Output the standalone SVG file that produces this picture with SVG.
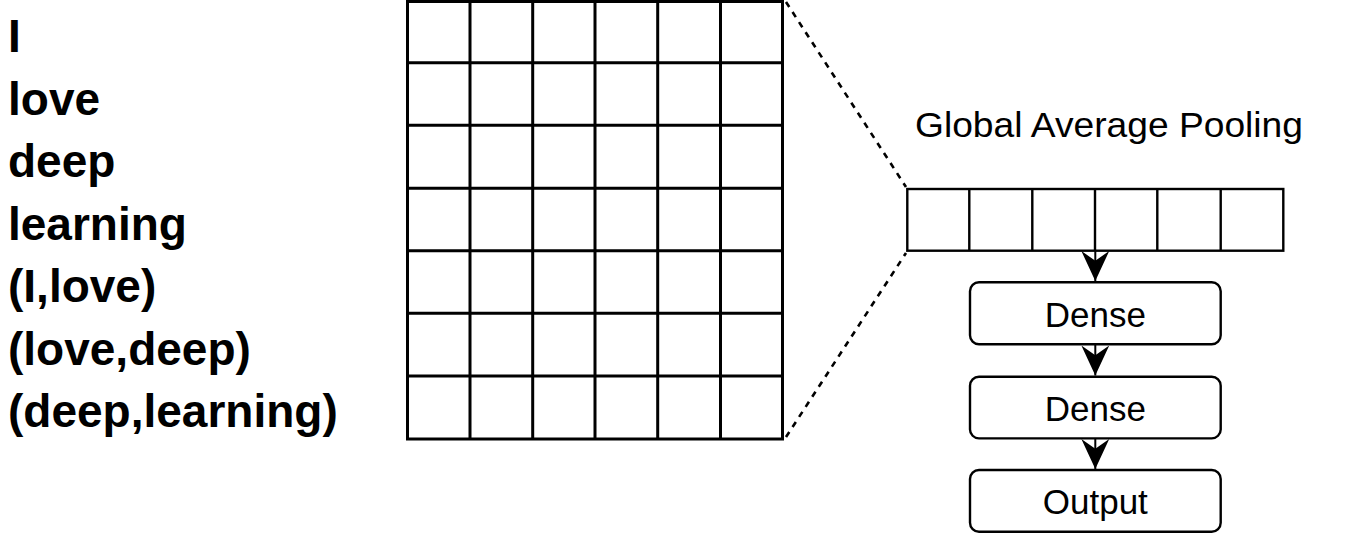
<svg xmlns="http://www.w3.org/2000/svg" width="1350" height="537" viewBox="0 0 1350 537">
  <style>
    .word { font-family: "Liberation Sans", Arial, sans-serif; font-weight: bold; font-size: 46px; fill: #000; }
    .lbl { font-family: "Liberation Sans", Arial, sans-serif; font-size: 35px; fill: #000; }
    .grid { fill: none; stroke: #000; stroke-width: 3; }
    .vec { fill: none; stroke: #000; stroke-width: 2.4; }
    .box { fill: #fff; stroke: #000; stroke-width: 2.4; }
    .dash { fill: none; stroke: #000; stroke-width: 2.6; stroke-dasharray: 6 6; }
    .conn { fill: none; stroke: #000; stroke-width: 2; }
  </style>
  <defs>
    <marker id="arr" markerUnits="userSpaceOnUse" markerWidth="30" markerHeight="30" refX="28" refY="13" orient="auto" viewBox="0 0 28 26">
      <path d="M0,0 L9,13 L0,26 L28,13 Z" fill="#000"/>
    </marker>
  </defs>
  <rect width="1350" height="537" fill="#fff"/>

  <g id="words">
    <text class="word" x="8" y="52">I</text>
    <text class="word" x="8" y="114.5">love</text>
    <text class="word" x="8" y="177">deep</text>
    <text class="word" x="8" y="239.5">learning</text>
    <text class="word" x="8" y="302">(I,love)</text>
    <text class="word" x="8" y="364.5">(love,deep)</text>
    <text class="word" x="8" y="427">(deep,learning)</text>
  </g>

  <g id="matrix">
    <rect class="grid" x="407.5" y="1.5" width="375" height="437.5"/>
    <path class="grid" d="M470,1.5V439 M532.7,1.5V439 M595,1.5V439 M657.7,1.5V439 M720.5,1.5V439
      M407.5,62.7H782.5 M407.5,125.3H782.5 M407.5,188.3H782.5 M407.5,250.7H782.5 M407.5,313.3H782.5 M407.5,376H782.5"/>
  </g>

  <g id="gap-label">
    <text class="lbl" x="915" y="137" textLength="388" lengthAdjust="spacingAndGlyphs">Global Average Pooling</text>
  </g>

  <g id="pooled-vector">
    <rect class="vec" x="907.3" y="189" width="376" height="61.7"/>
    <path class="vec" d="M969.3,189V250.7 M1032.3,189V250.7 M1095,189V250.7 M1157.3,189V250.7 M1220.7,189V250.7"/>
  </g>

  <g id="dense1">
    <rect class="box" x="970" y="282.3" width="250.7" height="62" rx="9"/>
    <text class="lbl" x="1095.3" y="327" text-anchor="middle">Dense</text>
  </g>
  <g id="dense2">
    <rect class="box" x="970" y="376.7" width="250.7" height="61.7" rx="9"/>
    <text class="lbl" x="1095.3" y="421" text-anchor="middle">Dense</text>
  </g>
  <g id="output">
    <rect class="box" x="970" y="470" width="250.7" height="61.7" rx="9"/>
    <text class="lbl" x="1095.3" y="514" text-anchor="middle">Output</text>
  </g>

  <g id="connectors">
    <line class="dash" x1="786" y1="2" x2="906" y2="187"/>
    <line class="dash" x1="786" y1="437" x2="906" y2="253"/>
    <line class="conn" x1="1095.3" y1="250.7" x2="1095.3" y2="281" marker-end="url(#arr)"/>
    <line class="conn" x1="1095.3" y1="344.3" x2="1095.3" y2="375.5" marker-end="url(#arr)"/>
    <line class="conn" x1="1095.3" y1="438.4" x2="1095.3" y2="469" marker-end="url(#arr)"/>
  </g>
</svg>
